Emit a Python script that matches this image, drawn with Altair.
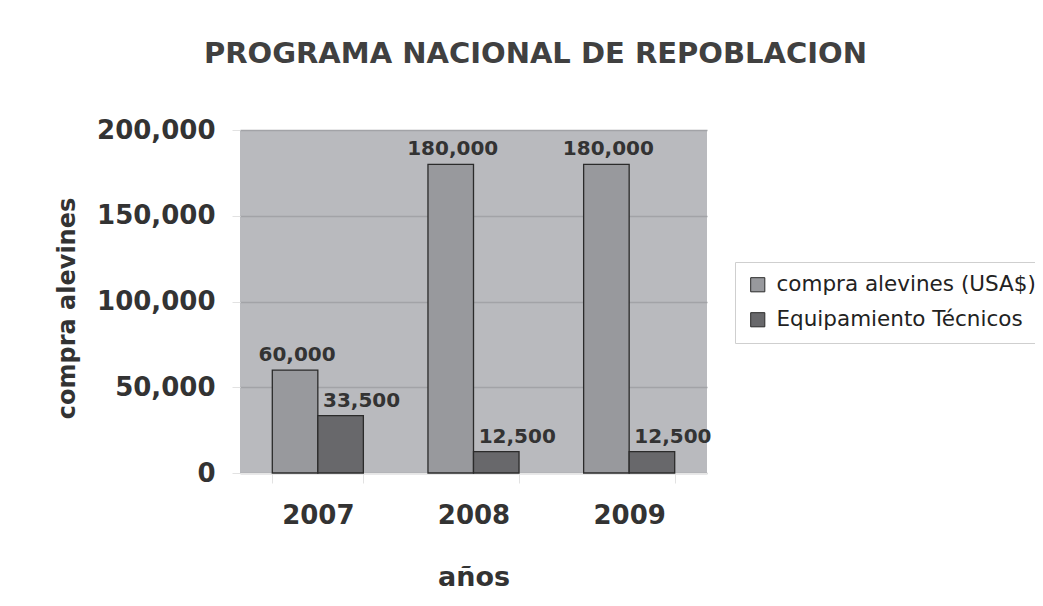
import altair as alt
import pandas as pd

years = ["2007", "2008", "2009"]
series = ["compra alevines (USA$)", "Equipamiento Técnicos"]
compra = [60000, 180000, 180000]
equipo = [33500, 12500, 12500]

rows = []
for i, y in enumerate(years):
    rows.append({"year": y, "serie": series[0], "value": compra[i]})
    rows.append({"year": y, "serie": series[1], "value": equipo[i]})
df = pd.DataFrame(rows)

FONT = "DejaVu Sans"
TXT = "#333333"

x_enc = alt.X("year:N", sort=years,
              scale=alt.Scale(paddingInner=0.415, paddingOuter=0.2075),
              axis=alt.Axis(title="años", labelAngle=0, labelFont=FONT, labelFontSize=26,
                            labelFontWeight="bold", labelColor=TXT, labelPadding=19,
                            tickBand="extent", tickColor="#e2e2e2", tickSize=10,
                            domainColor="#e6e6e6", titleFont=FONT, titleFontSize=27,
                            titleFontWeight="bold", titleColor=TXT, titleBaseline="alphabetic",
                            titleY=112))
xo_enc = alt.XOffset("serie:N", sort=series, scale=alt.Scale(paddingInner=0, paddingOuter=0))
y_enc = alt.Y("value:Q", scale=alt.Scale(domain=[0, 200000]),
              axis=alt.Axis(title="compra alevines", values=[0, 50000, 100000, 150000, 200000],
                            format=",d", labelFont=FONT, labelFontSize=26, labelFontWeight="bold",
                            labelColor=TXT, labelPadding=17, tickColor="#e2e2e2", tickSize=8,
                            domain=False, gridColor="#a2a3a7", gridWidth=1.3,
                            titleFont=FONT, titleFontSize=24, titleFontWeight="bold",
                            titleColor=TXT, titleAngle=270, titleAlign="center",
                            titleBaseline="middle", titleX=-173, titleY=178))
color_enc = alt.Color("serie:N", sort=series,
                      scale=alt.Scale(domain=series, range=["#98999d", "#68686b"]),
                      legend=alt.Legend(title=None, orient="none", legendX=495, legendY=132,
                                        labelFont=FONT, labelFontSize=21.5, labelColor="#222222",
                                        symbolType="square", symbolSize=200,
                                        symbolStrokeColor="#2b2b2b", symbolStrokeWidth=1,
                                        rowPadding=12, padding=12, labelLimit=400,
                                        fillColor="#ffffff", strokeColor="#cfcfcf",
                                        labelOffset=8))

bars = alt.Chart(df).mark_bar(stroke="#2b2b2b", strokeWidth=1.3).encode(
    x=x_enc, xOffset=xo_enc, y=y_enc, color=color_enc
)

def labels(name, dx):
    return alt.Chart(df).transform_filter(alt.datum.serie == name).mark_text(
        font=FONT, fontSize=20, fontWeight="bold", color=TXT, dy=-9, dx=dx,
        baseline="alphabetic", align="center"
    ).encode(x=alt.X("year:N", sort=years), xOffset=alt.XOffset("serie:N", sort=series),
             y="value:Q", text=alt.Text("value:Q", format=",d"))

chart = alt.layer(bars, labels(series[0], 2), labels(series[1], 21)).properties(
    width=467, height=343,
    background="#ffffff",
    autosize=alt.AutoSizeParams(type="none"),
    padding={"left": 232, "top": 122, "right": 328, "bottom": 125},
    title=alt.TitleParams("PROGRAMA NACIONAL DE REPOBLACION", font=FONT, fontSize=29,
                          fontWeight="bold", color="#404040", anchor="middle", dx=62,
                          baseline="alphabetic", offset=25),
).configure_view(fill="#b9babe", strokeWidth=0)

chart.save("out.html", embed_options={"renderer": "svg", "actions": False})
